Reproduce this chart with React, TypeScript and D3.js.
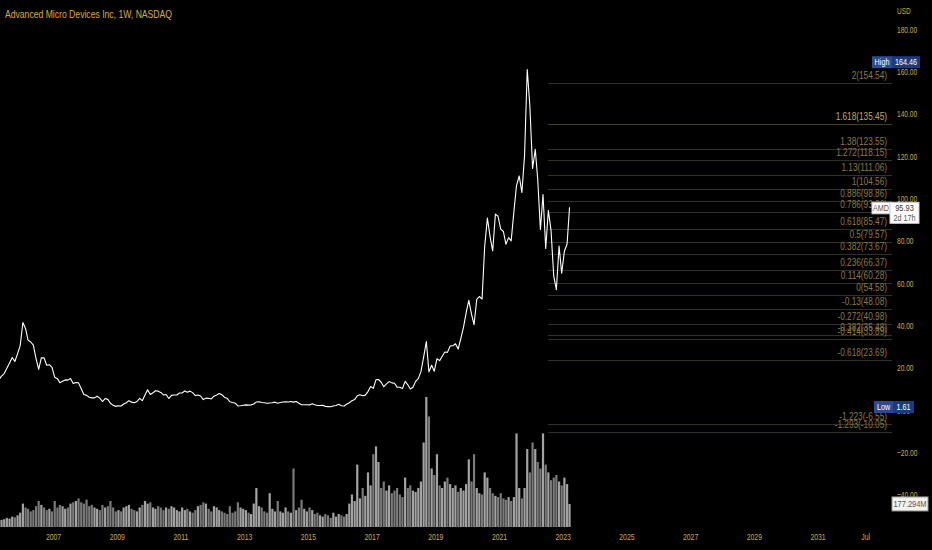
import React, { useEffect, useRef } from 'react';
import * as d3 from 'd3';

// weekly chart, sampled monthly (Apr 2005 -> Mar 2023)
const startMonth = new Date(2005, 3, 15);

const closes = [
  14.5, 16.2, 17.4, 19.9, 22.4, 25.0, 23.1, 26.8, 30.6,
  41.5, 38.6, 33.2, 32.3, 30.8, 24.4, 19.4, 24.9, 24.8, 21.3, 21.6, 20.3,
  15.6, 15.0, 13.1, 13.8, 14.4, 14.3, 15.1, 12.7, 13.2, 13.0, 10.2, 7.5,
  7.1, 6.2, 5.9, 5.9, 6.7, 5.8, 4.2, 5.6, 5.2, 3.4, 2.4, 1.9,
  2.2, 2.1, 3.0, 3.6, 4.6, 3.9, 3.6, 4.2, 5.7, 4.6, 7.3, 9.7,
  7.5, 8.3, 9.3, 9.1, 8.5, 7.3, 7.5, 5.6, 7.1, 7.3, 7.3, 8.2,
  8.2, 9.2, 8.6, 9.1, 8.4, 7.0, 7.3, 6.8, 5.1, 5.8, 5.7, 5.4,
  6.7, 7.3, 8.0, 7.4, 6.1, 5.7, 4.1, 3.7, 3.4, 2.1, 2.2, 2.4,
  2.6, 2.5, 2.6, 3.0, 4.0, 4.1, 3.7, 3.6, 3.4, 3.5, 3.6, 3.9,
  3.4, 3.7, 4.0, 4.1, 4.0, 4.2, 3.9, 4.2, 3.4, 2.7, 2.7, 2.7,
  2.6, 3.1, 2.7, 2.3, 2.3, 2.4, 1.9, 1.8, 1.7, 2.1, 2.3, 2.9,
  2.2, 2.1, 2.9, 3.6, 4.6, 5.1, 6.9, 7.4, 6.9, 7.2, 8.9, 11.3,
  10.4, 14.5, 14.6, 13.3, 11.2, 12.5, 13.6, 13.0, 12.8, 11.0, 10.9, 10.3,
  13.7, 12.1, 10.1, 10.9, 13.7, 15.0, 18.3, 25.2, 32.5, 18.2, 21.3, 18.5,
  24.4, 23.5, 25.5, 27.6, 27.4, 30.4, 30.5, 31.5, 29.0, 33.9, 39.2, 45.9,
  52.0, 45.5, 40.5, 52.4, 53.8, 52.6, 77.4, 90.8, 82.0, 75.3, 92.7, 91.7,
  85.6, 84.5, 78.5, 81.6, 80.1, 93.9, 106.2, 110.7, 102.9, 120.2, 161.0, 143.9,
  114.3, 123.3, 109.3, 85.5, 101.9, 76.5, 94.5, 84.9, 63.4, 57.0, 77.6, 64.8,
  75.2, 78.6, 95.93
];

// volume in millions
const volumes = [
  45, 55, 60, 70, 65, 80, 75, 90, 110,
  180, 150, 140, 120, 130, 160, 200, 170, 150, 130, 140, 120,
  200, 150, 170, 160, 140, 150, 180, 190, 200, 220, 190, 180,
  210, 160, 170, 150, 140, 130, 170, 150, 160, 200, 150, 120,
  130, 120, 150, 160, 170, 140, 130, 120, 150, 170, 200, 180,
  190, 150, 140, 160, 150, 130, 150, 140, 160, 150, 130, 120,
  150, 130, 140, 120, 110, 130, 160, 170, 190, 180, 140, 120,
  160, 150, 130, 120, 110, 100, 160, 110, 120, 190, 150, 140,
  130, 110, 100, 180, 300, 160, 150, 120, 110, 260, 140, 120,
  200, 120, 110, 150, 120, 110, 450, 130, 150, 210, 140, 120,
  150, 130, 100, 110, 90, 80, 100, 90, 70, 110, 80, 100,
  90, 80, 100, 180, 250, 200, 480, 220, 300, 240, 420, 320,
  560, 620, 500, 300, 350, 280, 320, 260, 280, 300, 250, 230,
  380, 300, 320, 280, 270, 300, 350, 650, 1000, 850, 450, 400,
  560, 320, 300, 350, 380, 330, 300, 320, 270, 300, 280, 330,
  520, 350, 560, 300, 260, 250, 420, 380, 300, 260, 240, 230,
  260, 220, 210, 230, 200, 230, 720, 300, 220, 300, 600, 420,
  650, 600, 500, 450, 720, 480, 420, 360, 380, 400, 350, 320,
  380, 330, 177.294
];

const fibLevels = ['2', '1.618', '1.38', '1.272', '1.13', '1', '0.886', '0.786', '0.618', '0.5', '0.382',
  '0.236', '0.114', '0', '-0.13', '-0.272', '-0.382', '-0.414', '-0.618', '-1.223', '-1.293'];
const fibPrices = [154.54, 135.45, 123.55, 118.15, 111.06, 104.56, 98.86, 93.86, 85.47, 79.57, 73.67,
  66.37, 60.28, 54.58, 48.08, 40.98, 35.48, 33.89, 23.69, -6.55, -10.05];

const priceTicks = [180, 160, 140, 120, 100, 80, 60, 40, 20, 0, -20, -40];
const yearTicks = [2007, 2009, 2011, 2013, 2015, 2017, 2019, 2021, 2023, 2025, 2027, 2029, 2031];

const FONT = '"Liberation Sans", Arial, sans-serif';
const GOLD = '#cdac3a';
const SX = 0.75; // condensed look

export default function App() {
  const svgRef = useRef<SVGSVGElement>(null);

  useEffect(() => {
    document.body.style.margin = '0';
    document.body.style.background = '#000';
    if (!svgRef.current) return;
    const svg = d3.select(svgRef.current);
    svg.selectAll('*').remove();

    const W = 932, H = 550;
    const plotRight = 892;

    const x = d3.scaleTime()
      .domain([new Date(2007, 0, 1), new Date(2031, 0, 1)])
      .range([53.5, 818]);
    const y = d3.scaleLinear().domain([0, 180]).range([410.4, 29.3]);
    const yVol = d3.scaleLinear().domain([0, 1000]).range([527, 397]);

    const data = closes.map((c, i) => ({
      date: d3.timeMonth.offset(startMonth, i),
      close: c,
      vol: volumes[i],
      up: i === 0 ? true : c >= closes[i - 1]
    }));

    // condensed text helper
    const label = (
      parent: any, px: number, py: number, s: string,
      size: number, fill: string, anchor = 'start', dy = '0.35em', sx = SX
    ) => {
      const g = parent.append('g').attr('transform', `translate(${px},${py}) scale(${sx},1)`);
      g.append('text')
        .attr('text-anchor', anchor)
        .attr('dy', dy)
        .attr('font-family', FONT)
        .attr('font-size', size)
        .attr('fill', fill)
        .text(s);
      return g;
    };

    svg.append('rect').attr('width', W).attr('height', H).attr('fill', '#000');

    const defs = svg.append('defs');
    defs.append('clipPath').attr('id', 'plot-clip')
      .append('rect').attr('x', 0).attr('y', 0).attr('width', plotRight).attr('height', 527);

    const plot = svg.append('g').attr('clip-path', 'url(#plot-clip)');

    // volume
    plot.selectAll('.vol')
      .data(data)
      .enter()
      .append('rect')
      .attr('x', d => x(d.date) - 1.1)
      .attr('width', 2.2)
      .attr('y', d => yVol(d.vol))
      .attr('height', d => yVol(0) - yVol(d.vol))
      .attr('fill', d => (d.up ? '#a3a3a3' : '#7a7a7a'));

    // fib lines
    const fibStart = x(new Date(2022, 6, 12));
    fibPrices.forEach((p, i) => {
      const bright = fibLevels[i] === '1.618';
      plot.append('line')
        .attr('x1', fibStart)
        .attr('x2', plotRight)
        .attr('y1', Math.round(y(p)) + 0.5)
        .attr('y2', Math.round(y(p)) + 0.5)
        .attr('stroke', bright ? '#424220' : '#303027')
        .attr('stroke-width', 1);
    });

    // price line
    const line = d3.line<any>()
      .x(d => x(d.date))
      .y(d => y(d.close));
    plot.append('path')
      .datum(data)
      .attr('fill', 'none')
      .attr('stroke', '#ffffff')
      .attr('stroke-width', 1.1)
      .attr('stroke-linejoin', 'round')
      .attr('d', line);

    // fib labels
    fibPrices.forEach((p, i) => {
      const bright = fibLevels[i] === '1.618';
      label(svg, 887, y(p) - 4, `${fibLevels[i]}(${p.toFixed(2)})`, 11,
        bright ? '#c4ab5a' : '#8c7b3c', 'end', '0');
    });

    // title
    svg.append('text')
      .attr('x', 5)
      .attr('y', 18)
      .attr('font-family', FONT)
      .attr('font-size', 11)
      .attr('textLength', 167)
      .attr('lengthAdjust', 'spacingAndGlyphs')
      .attr('fill', '#dcae2c')
      .text('Advanced Micro Devices Inc, 1W, NASDAQ');

    // right axis
    label(svg, 897, 11, 'USD', 9, GOLD, 'start', '0.35em', 0.72);
    priceTicks.forEach(t => {
      label(svg, 897, y(t), d3.format('.2f')(t), 9.4, GOLD, 'start', '0.35em', 0.7);
    });

    // bottom axis
    yearTicks.forEach(t => {
      label(svg, x(new Date(t, 0, 1)), 537, String(t), 9.8, GOLD, 'middle', '0.35em', 0.7);
    });
    label(svg, x(new Date(2032, 6, 1)), 537, 'Jul', 9.8, GOLD, 'middle', '0.35em', 0.7);

    // tag helper
    const tag = (x0: number, w: number, cy: number, h: number, bg: string, fg: string, txt: string) => {
      svg.append('rect')
        .attr('x', x0).attr('y', cy - h / 2).attr('width', w).attr('height', h)
        .attr('fill', bg);
      label(svg, x0 + w / 2, cy, txt, 9, fg, 'middle', '0.35em', 0.8);
    };

    const hi = y(164.46);
    tag(872, 20, hi, 12, '#2b4a90', '#ffffff', 'High');
    tag(892, 28, hi, 12, '#1c3a80', '#ffffff', '164.46');

    const lo = y(1.61);
    tag(874, 19, lo, 12, '#2b4a90', '#ffffff', 'Low');
    tag(893, 21, lo, 12, '#1c3a80', '#ffffff', '1.61');

    // last price tag
    const last = closes[closes.length - 1];
    const ly = y(last);
    svg.append('rect').attr('x', 872).attr('y', ly - 5).attr('width', 18).attr('height', 11.5)
      .attr('fill', '#ffffff').attr('stroke', '#cfcfcf');
    label(svg, 881, ly + 0.8, 'AMD', 9, '#555', 'middle', '0.35em', 0.8);
    svg.append('rect').attr('x', 890).attr('y', ly - 5).attr('width', 29).attr('height', 21)
      .attr('fill', '#ffffff').attr('stroke', '#cfcfcf');
    label(svg, 904.5, ly + 0.8, d3.format('.2f')(last), 9.3, '#333', 'middle', '0.35em', 0.8);
    label(svg, 904.5, ly + 10.5, '2d 17h', 9, '#555', 'middle', '0.35em', 0.8);

    // last volume tag
    const lv = volumes[volumes.length - 1];
    const vy = yVol(lv);
    svg.append('rect').attr('x', 892).attr('y', vy - 7).attr('width', 36).attr('height', 14)
      .attr('fill', '#f2f2f2').attr('stroke', '#9a9a9a');
    label(svg, 910, vy, `${d3.format('.3f')(lv)}M`, 9.3, '#555', 'middle', '0.35em', 0.8);
  }, []);

  return (
    <svg
      ref={svgRef}
      width={932}
      height={550}
      style={{ position: 'absolute', left: 0, top: 0, display: 'block', background: '#000' }}
    />
  );
}
